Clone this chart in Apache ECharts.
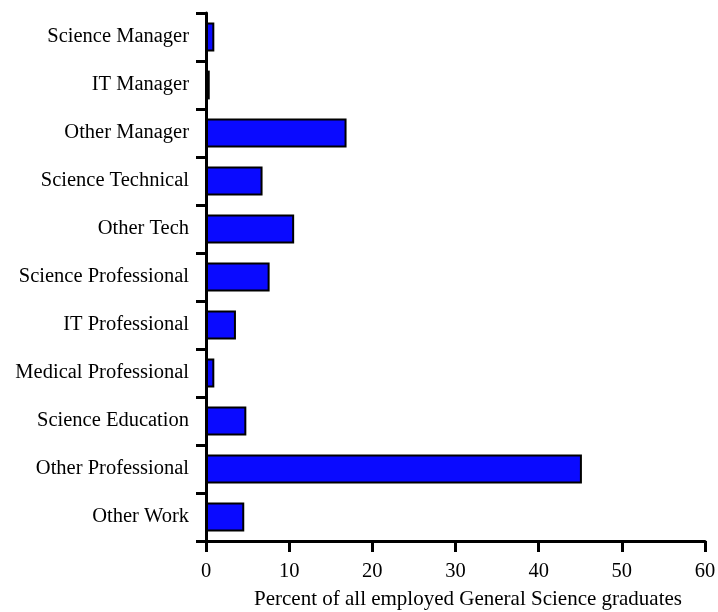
<!DOCTYPE html>
<html>
<head>
<meta charset="utf-8">
<script src="https://cdn.jsdelivr.net/npm/echarts@6/dist/echarts.min.js"></script>
<style>
html,body{margin:0;padding:0;background:#fff;}
#chart{width:718px;height:612px;}
</style>
</head>
<body>
<div id="chart"></div>
<script>
// categories listed top to bottom
var categories = ['Science Manager','IT Manager','Other Manager','Science Technical','Other Tech',
    'Science Professional','IT Professional','Medical Professional','Science Education',
    'Other Professional','Other Work'];
var values = [1.0, 0.45, 16.9, 6.8, 10.6, 7.65, 3.6, 1.0, 4.85, 45.2, 4.6];
var xTicks = [0, 60, 10];   // min, max, interval
var xTitle = 'Percent of all employed General Science graduates';

var font = 'Liberation Serif, Times New Roman, serif';
var chart = echarts.init(document.getElementById('chart'));
var option = {
    animation: false,
    grid: {left: 206, right: 13, top: 13, bottom: 71, containLabel: false, outerBoundsMode: 'none'},
    xAxis: {
        type: 'value',
        min: xTicks[0], max: xTicks[1], interval: xTicks[2],
        name: xTitle,
        nameLocation: 'middle',
        nameGap: 48,
        nameTextStyle: {fontFamily: font, fontSize: 21, color: '#000', padding: [0, 0, 0, 25]},
        axisLine: {show: true, lineStyle: {color: '#000', width: 3}},
        axisTick: {show: true, length: 11, lineStyle: {color: '#000', width: 3}},
        axisLabel: {fontFamily: font, fontSize: 20.5, color: '#000', margin: 20},
        splitLine: {show: false}
    },
    yAxis: {
        type: 'category',
        data: categories,
        inverse: true,
        axisLine: {show: true, lineStyle: {color: '#000', width: 3}},
        axisTick: {show: true, length: 10, lineStyle: {color: '#000', width: 3}},
        axisLabel: {fontFamily: font, fontSize: 20.5, color: '#000', margin: 17},
        splitLine: {show: false}
    },
    series: [{
        type: 'bar',
        data: values,
        barCategoryGap: '40%',
        itemStyle: {color: '#0a0aff', borderColor: '#000', borderWidth: 2}
    }]
};
chart.setOption(option);
</script>
</body>
</html>
